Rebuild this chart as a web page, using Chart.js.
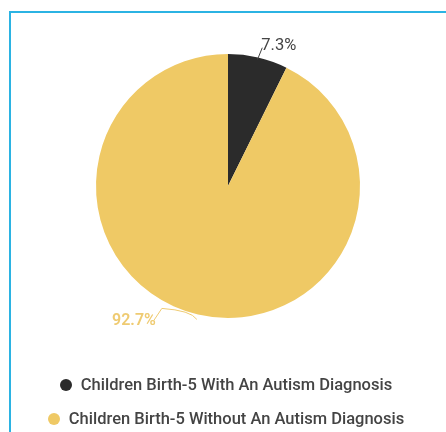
<!DOCTYPE html>
<html>
<head>
<meta charset="utf-8">
<script src="https://cdn.jsdelivr.net/npm/chart.js@4"></script>
<style>
  html, body { margin: 0; padding: 0; background: #fff; }
  body { width: 446px; height: 432px; position: relative; overflow: hidden; font-family: Roboto, sans-serif; }
  #frame { position: absolute; left: 9px; top: 11px; width: 600px; height: 600px; border: 2px solid #2bb3e3; box-sizing: border-box; }
  #wrap { position: absolute; left: 0; top: 0; width: 446px; height: 432px; }
  #legend { position: absolute; left: 3px; top: 373px; width: 446px; text-align: center; }
  .item { display: block; height: 33.5px; line-height: 24px; font-size: 16.5px; font-weight: 500; color: #444; white-space: nowrap; }
  .dot { display: inline-block; width: 12px; height: 12px; border-radius: 50%; margin-right: 9px; vertical-align: -1px; }
</style>
</head>
<body>
<div id="frame"></div>
<div id="wrap"><canvas id="pieChart" width="446" height="432"></canvas></div>
<div id="legend"></div>
<script>
// --- datos ---
const categories = ['Children Birth-5 With An Autism Diagnosis', 'Children Birth-5 Without An Autism Diagnosis'];
const percentages = [7.3, 92.7];
const sliceColors = ['#2b2b2b', '#efc965'];
const labelColors = ['#444444', '#efcb72'];

// leyenda en HTML
const legendDiv = document.getElementById('legend');
categories.forEach((name, i) => {
    const row = document.createElement('div');
    row.className = 'item';
    const dot = document.createElement('span');
    dot.className = 'dot';
    dot.style.background = sliceColors[i];
    row.appendChild(dot);
    row.appendChild(document.createTextNode(name));
    legendDiv.appendChild(row);
});

// etiquetas exteriores con linea guia
const outsideLabels = {
    id: 'outsideLabels',
    afterDatasetsDraw(chart) {
        const { ctx } = chart;
        const meta = chart.getDatasetMeta(0);
        ctx.save();
        meta.data.forEach((arc, i) => {
            const p = arc.getProps(['x', 'y', 'startAngle', 'endAngle', 'outerRadius'], true);
            const mid = (p.startAngle + p.endAngle) / 2;
            const cos = Math.cos(mid), sin = Math.sin(mid);
            const text = percentages[i].toFixed(1) + '%';
            ctx.strokeStyle = labelColors[i];
            ctx.lineWidth = 1;
            ctx.fillStyle = labelColors[i];
            if (cos >= 0) {
                const sx = p.x + cos * (p.outerRadius - 2), sy = p.y + sin * (p.outerRadius - 2);
                const ex = p.x + cos * (p.outerRadius + 10), ey = p.y + sin * (p.outerRadius + 10);
                ctx.beginPath();
                ctx.moveTo(sx, sy);
                ctx.lineTo(ex + 2, ey);
                ctx.stroke();
                ctx.font = '400 16.5px Roboto, sans-serif';
                ctx.textAlign = 'left';
                ctx.textBaseline = 'middle';
                ctx.fillText(text, ex + 1, ey - 2);
            } else {
                const sx = p.x + cos * (p.outerRadius + 5), sy = p.y + sin * (p.outerRadius + 5);
                const kx = sx - 35, ky = sy - 11;
                const ex = kx - 8, ey = ky + 12;
                ctx.beginPath();
                ctx.moveTo(sx, sy);
                ctx.quadraticCurveTo(sx - 6, sy - 9, kx, ky);
                ctx.lineTo(ex, ey);
                ctx.stroke();
                ctx.font = '600 16px Roboto, sans-serif';
                ctx.textAlign = 'right';
                ctx.textBaseline = 'middle';
                ctx.fillText(text, ex + 2, ey + 1);
            }
        });
        ctx.restore();
    }
};

new Chart(document.getElementById('pieChart').getContext('2d'), {
    type: 'pie',
    data: {
        labels: categories,
        datasets: [{
            data: percentages,
            backgroundColor: sliceColors,
            borderWidth: 0
        }]
    },
    options: {
        responsive: false,
        animation: false,
        layout: { padding: { top: 54, bottom: 114, left: 96, right: 86 } },
        plugins: {
            legend: { display: false },
            tooltip: { enabled: false }
        }
    },
    plugins: [outsideLabels]
});
</script>
</body>
</html>
